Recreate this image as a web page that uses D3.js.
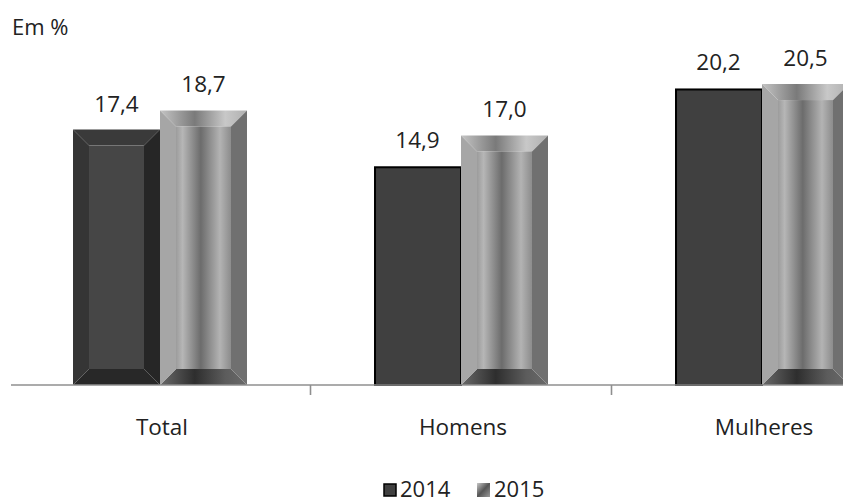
<!DOCTYPE html>
<html>
<head>
<meta charset="utf-8">
<script src="https://cdn.jsdelivr.net/npm/d3@7"></script>
<style>
  html, body { margin: 0; padding: 0; background: #ffffff; }
  svg { display: block; font-family: "Open Sans", "Liberation Sans", sans-serif; }
</style>
</head>
<body>
<svg id="chart" width="843" height="504"></svg>
<script>
// Share of population (%), by sex, 2014 and 2015
const categories = ["Total", "Homens", "Mulheres"];
const seriesNames = ["2014", "2015"];
const values2014 = [17.4, 14.9, 20.2];
const values2015 = [18.7, 17.0, 20.5];
const unitLabel = "Em %";

const svg = d3.select("#chart");
const baseY = 385;

const ptBR = d3.formatLocale({ decimal: ",", thousands: ".", grouping: [3], currency: ["R$", ""] });
const fmt = ptBR.format(".1f");

const x0 = d3.scaleBand().domain(categories).range([9.5, 912.5])
  .paddingInner(0.422).paddingOuter(0.211);
const x1 = d3.scaleBand().domain(seriesNames).range([0, x0.bandwidth()]);
const y = d3.scaleLinear().domain([0, 25]).range([baseY, 18]);

const rows = categories.map((c, i) => ({
  cat: c,
  items: [
    { s: "2014", v: values2014[i] },
    { s: "2015", v: values2015[i] }
  ]
}));

// gradients for the cylinder-like 2015 bars
const defs = svg.append("defs");
function hGrad(id, stops) {
  const g = defs.append("linearGradient").attr("id", id)
    .attr("x1", "0%").attr("x2", "100%").attr("y1", "0%").attr("y2", "0%");
  stops.forEach(([o, c]) => g.append("stop").attr("offset", o).attr("stop-color", c));
}
hGrad("face15", [[0, "#9c9c9c"], [0.12, "#b6b6b6"], [0.45, "#6c6c6c"], [0.8, "#b3b3b3"], [1, "#8c8c8c"]]);
hGrad("top15", [[0, "#c4c4c4"], [0.4, "#7a7a7a"], [0.75, "#c8c8c8"], [1, "#b0b0b0"]]);
hGrad("bot15", [[0, "#6a6a6a"], [0.4, "#2e2e2e"], [0.75, "#5c5c5c"], [1, "#6a6a6a"]]);
const lg15 = defs.append("linearGradient").attr("id", "leg15")
  .attr("x1", "0%").attr("x2", "100%").attr("y1", "0%").attr("y2", "100%");
[[0, "#c8c8c8"], [0.5, "#555555"], [1, "#9a9a9a"]].forEach(([o, c]) =>
  lg15.append("stop").attr("offset", o).attr("stop-color", c));

function poly(g, pts, fill) {
  g.append("polygon").attr("points", pts.map(p => p.join(",")).join(" ")).attr("fill", fill);
}

// bar with bevelled edges: top, bottom, left, right faces plus inner face
function bevelBar(g, x, yTop, w, h, b, c) {
  const yb = yTop + h;
  poly(g, [[x, yTop], [x + w, yTop], [x + w - b, yTop + b], [x + b, yTop + b]], c.top);
  poly(g, [[x, yb], [x + w, yb], [x + w - b, yb - b], [x + b, yb - b]], c.bottom);
  poly(g, [[x, yTop], [x + b, yTop + b], [x + b, yb - b], [x, yb]], c.left);
  poly(g, [[x + w, yTop], [x + w - b, yTop + b], [x + w - b, yb - b], [x + w, yb]], c.right);
  g.append("rect").attr("x", x + b).attr("y", yTop + b)
    .attr("width", w - 2 * b).attr("height", h - 2 * b).attr("fill", c.face);
}

const dark = { top: "#3a3a3a", bottom: "#282828", left: "#353535", right: "#262626", face: "#464646" };
const light = { top: "url(#top15)", bottom: "url(#bot15)", left: "#a6a6a6", right: "#707070", face: "url(#face15)" };
const bevelled2014 = new Set(["Total"]);

const groups = svg.append("g").selectAll("g").data(rows).join("g")
  .attr("transform", d => `translate(${x0(d.cat)},0)`);

groups.each(function (d) {
  const g = d3.select(this);
  d.items.forEach(it => {
    const bx = x1(it.s), bw = x1.bandwidth();
    const by = y(it.v), bh = y(0) - y(it.v);
    if (it.s === "2015") {
      bevelBar(g, bx, by, bw, bh, 16, light);
    } else if (bevelled2014.has(d.cat)) {
      bevelBar(g, bx, by, bw, bh, 16, dark);
    } else {
      g.append("rect").attr("x", bx + 1).attr("y", by + 1)
        .attr("width", bw - 1).attr("height", bh - 1)
        .attr("fill", "#404040").attr("stroke", "#000").attr("stroke-width", 2);
    }
    g.append("text").attr("x", bx + bw / 2).attr("y", by - 18)
      .attr("text-anchor", "middle").attr("font-size", 22.5).attr("fill", "#222")
      .text(fmt(it.v));
  });
});

// category axis: baseline with tick marks between groups
const axis = svg.append("g");
axis.append("line").attr("x1", 11).attr("x2", 912.5).attr("y1", baseY).attr("y2", baseY)
  .attr("stroke", "#8f8f8f").attr("stroke-width", 1.6);
categories.slice(1).forEach(c => {
  const tx = x0(c) - x0.step() * x0.paddingInner() / 2;
  axis.append("line").attr("x1", tx).attr("x2", tx).attr("y1", baseY).attr("y2", baseY + 10)
    .attr("stroke", "#8f8f8f").attr("stroke-width", 1.6);
});
axis.selectAll("text.cat").data(categories).join("text").attr("class", "cat")
  .attr("x", c => x0(c) + x0.bandwidth() / 2 + 2).attr("y", 435)
  .attr("text-anchor", "middle").attr("font-size", 22.5).attr("fill", "#222")
  .text(c => c);

// unit label
svg.append("text").attr("x", 12).attr("y", 35).attr("font-size", 22).attr("fill", "#222")
  .text(unitLabel);

// legend
const legend = svg.append("g");
const legX = [383, 477];
seriesNames.forEach((s, i) => {
  const lg = legend.append("g").attr("transform", `translate(${legX[i]},0)`);
  if (i === 0) {
    lg.append("rect").attr("x", 1).attr("y", 484).attr("width", 12).attr("height", 12)
      .attr("fill", "#404040").attr("stroke", "#000").attr("stroke-width", 1.5);
  } else {
    lg.append("rect").attr("x", 0).attr("y", 483).attr("width", 13).attr("height", 14)
      .attr("fill", "url(#leg15)");
  }
  lg.append("text").attr("x", 17).attr("y", 497).attr("font-size", 22).attr("fill", "#222")
    .text(s);
});
</script>
</body>
</html>
